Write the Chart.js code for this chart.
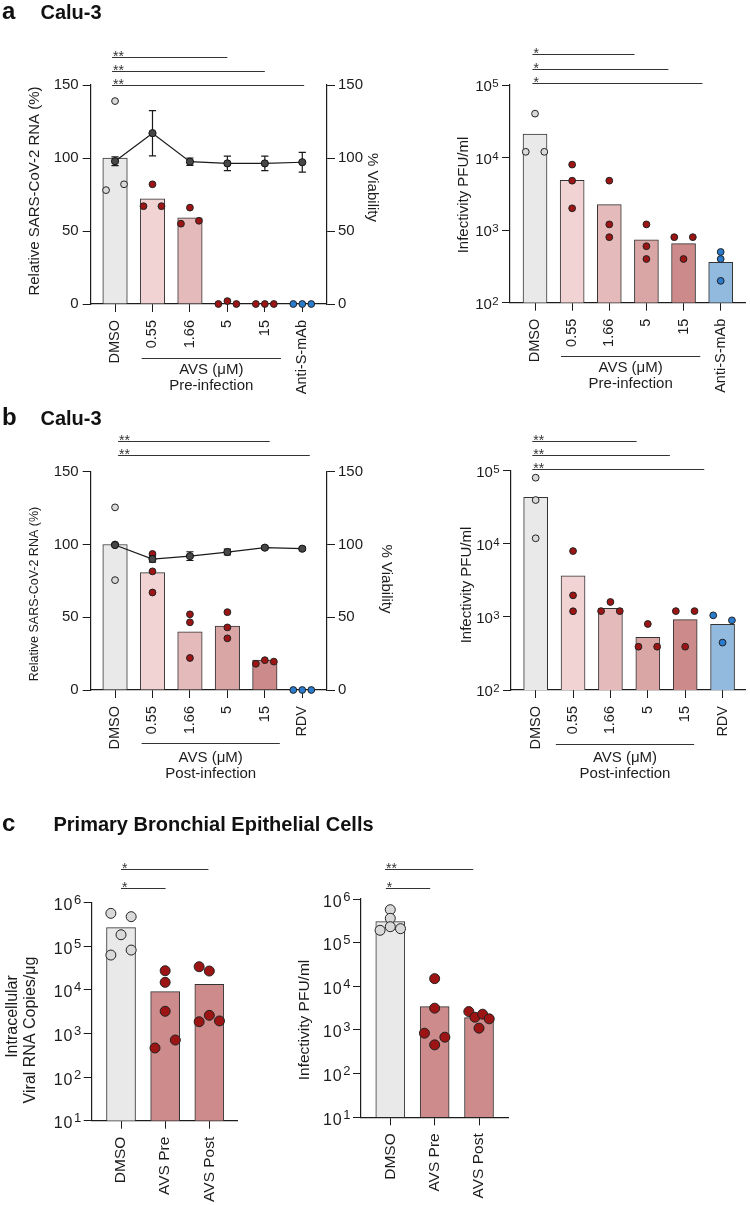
<!DOCTYPE html>
<html><head><meta charset="utf-8">
<script src="https://cdn.jsdelivr.net/npm/chart.js@4.4.1/dist/chart.umd.min.js"></script>
<style>
html,body{margin:0;padding:0;background:#fff;}
#wrap{position:relative;width:750px;height:1205px;overflow:hidden;}
canvas{position:absolute;left:0;top:0;}
</style></head>
<body><div id="wrap">
<canvas id="aL" width="750" height="1205"></canvas>
<canvas id="aR" width="750" height="1205"></canvas>
<canvas id="bL" width="750" height="1205"></canvas>
<canvas id="bR" width="750" height="1205"></canvas>
<canvas id="cL" width="750" height="1205"></canvas>
<canvas id="cR" width="750" height="1205"></canvas>
</div>
<script>
// ---------- DATA ----------
const catsA = ['DMSO','0.55','1.66','5','15','Anti-S-mAb'];
const catsB = ['DMSO','0.55','1.66','5','15','RDV'];
const catsC = ['DMSO','AVS Pre','AVS Post'];

const pctTicks = [0,50,100,150];
const logTicksAB = [100,1000,10000,100000];
const logTicksC = [10,100,1000,10000,100000,1000000];

// a: pre-infection
const aRnaBars = [100, 72, 59, 0, 0, 0];
const aRnaPts  = [[139,78,82],[82,67,67],[66,55,57],[0,2,0],[0,0,0],[0,0,0]];
const aRnaJit  = [[0,-1,1],[0,-1,1],[0,-1,1],[-1,0,1],[-1,0,1],[-1,0,1]];
const aViab    = [97.8, 117, 97.5, 96.3, 96.3, 97.1];
const aViabSd  = [3, 15.5, 2.5, 5, 5, 6.8];
const aPfuBars = [21100, 4860, 2250, 733, 652, 361];
const aPfuPts  = [[40300,12000,12000],[8000,4800,2000],[4800,1200,800],[1200,600,400],[800,800,400],[500,400,200]];
const aPfuJit  = [[0,-1,1],[0,0,0],[0,0,0],[0,0,0],[-1,1,0],[0,0,0]];

// b: post-infection
const bRnaBars = [100, 80.6, 40, 44, 20.5, 0];
const bRnaPts  = [[125.5,100,75.5],[93.5,81.5,67],[52,46.5,22],[53.5,43,35.5],[18,20.5,19.5],[0,0,0]];
const bRnaJit  = [[0,0,0],[0,0,0],[0,0,0],[0,0,0],[-1,0,1],[-1,0,1]];
const bViab    = [99.6, 90, 92, 94.8, 97.8, 97.1];
const bViabSd  = [1, 2.2, 3, 2, 1, 1];
const bPfuBars = [43300, 3660, 1310, 526, 916, 792];
const bPfuPts  = [[80200,39700,11900],[7960,1970,1195],[1600,1200,1200],[800,391,391],[1200,1200,391],[1050,897,445]];
const bPfuJit  = [[0,0,0],[0,0,0],[0,-1,1],[0,-1,1],[-1,1,0],[-1,1,0]];

// c: primary bronchial epithelial cells
const cRnaBars = [267000, 9100, 13400];
const cRnaPts  = [[570000,478000,184000,63000,82000],[27500,14900,3230,465,708],[34000,27100,1860,2610,1940]];
const cRnaJit  = [[-1,1,0,-1,1],[0,0,0,-1,1],[-1,0,-1,0,1]];
const cPfuBars = [303000, 3430, 1920];
const cPfuPts  = [[569000,361000,232000,192000,209000],[15000,3160,845,684,456],[2640,1960,2300,1800,1100]];
const cPfuJit  = [[0,0,0,-1,1],[0,0,-1,1,0],[-1,-0.4,0.35,1,0]];

// significance: [from, to, label]
const sigAL = [[-0.08,3,'**'],[-0.08,4,'**'],[-0.08,5.05,'**']];
const sigAR = [[-0.07,2.68,'*'],[-0.07,3.59,'*'],[-0.07,4.51,'*']];
const sigBL = [[0.08,4.13,'**'],[0.08,5.2,'**']];
const sigBR = [[-0.09,2.7,'**'],[-0.09,3.59,'**'],[-0.09,4.51,'**']];
const sigCL = [[0,1.98,'*'],[0,1.01,'*']];
const sigCR = [[-0.12,1.87,'**'],[-0.1,0.9,'*']];

// ---------- STYLE ----------
const FONT = "'Liberation Sans', Arial, Helvetica, sans-serif";
const INK = '#1c1c1c';
const GREY = '#e9e9e9', P1 = '#f2d3d3', P2 = '#e5baba', P3 = '#d9a5a5', P4 = '#cc8a8a', BLU = '#92b9de', PC = '#cd8b8b';
const DOT_G = '#d9d9d9', DOT_R = '#9c1414', DOT_B = '#2b7bcc';
const barColsA = [GREY,P1,P2,P3,P4,BLU];
const ptColsA = [DOT_G,DOT_R,DOT_R,DOT_R,DOT_R,DOT_B];
const barColsC = [GREY,PC,PC];
const ptColsC = [DOT_G,DOT_R,DOT_R];

Chart.defaults.font.family = FONT;
Chart.defaults.color = INK;

function txt(ctx, s, x, y, o) {
  o = o || {};
  ctx.save();
  ctx.translate(x, y);
  ctx.rotate((o.rot || 0) * Math.PI / 180);
  ctx.font = (o.bold ? 'bold ' : '') + (o.size || 15) + 'px ' + FONT;
  ctx.fillStyle = o.color || INK;
  ctx.textAlign = o.align || 'center';
  ctx.textBaseline = o.base || 'middle';
  if (o.ls) ctx.letterSpacing = o.ls + 'px';
  ctx.fillText(s, 0, 0);
  ctx.restore();
}

function makePanel(id, cfg) {
  const [L, T, R, B] = cfg.area;
  const log = !!cfg.log;
  const YW = 60, Y2W = 45, XH = Math.min(100, 1205 - B);
  const datasets = [];
  if (cfg.viab) {
    datasets.push({
      type: 'line', yAxisID: 'y2', order: 0, clip: false,
      data: cfg.viab.map((v, i) => ({x: i, y: v})),
      borderColor: '#1a1a1a', borderWidth: 1.2, tension: 0,
      pointRadius: 3.6, pointBorderWidth: 1,
      pointBackgroundColor: '#474747', pointBorderColor: '#111'
    });
  }
  cfg.pts.forEach((arr, i) => {
    datasets.push({
      type: 'scatter', yAxisID: 'y', order: 1, clip: false,
      data: arr.map((v, k) => ({x: i + cfg.jit[i][k] * cfg.jitUnit, y: v})),
      pointRadius: cfg.ptR, pointBorderWidth: 1,
      pointBackgroundColor: cfg.ptCols[i], pointBorderColor: '#222'
    });
  });
  datasets.push({
    type: 'bar', yAxisID: 'y', order: 2,
    data: cfg.bars.map((v, i) => ({x: i, y: v})),
    backgroundColor: cfg.barCols, borderColor: '#333', borderWidth: 1,
    barThickness: cfg.barW
  });

  const scales = {
    x: {
      type: 'linear', min: cfg.xmin, max: cfg.xmax, offset: false,
      afterBuildTicks: s => { s.ticks = cfg.cats.map((c, i) => ({value: i})); },
      afterFit: s => { s.height = XH; },
      ticks: {autoSkip: false, minRotation: 90, maxRotation: 90, padding: cfg.catPad,
              color: INK, font: {family: FONT, size: cfg.catSize},
              callback: v => cfg.cats[v]},
      grid: {display: true, drawOnChartArea: false, drawTicks: true, tickLength: 8,
             color: INK, lineWidth: 1, offset: false},
      border: {display: true, color: INK, width: 1.2}
    },
    y: {
      type: log ? 'logarithmic' : 'linear', position: 'left',
      min: cfg.ymin, max: cfg.ymax,
      afterBuildTicks: s => { s.ticks = cfg.yTicks.map(v => ({value: v})); },
      afterFit: s => { s.width = YW; },
      ticks: {display: !log, autoSkip: false, padding: 4, color: INK, font: {family: FONT, size: 15},
              callback: v => String(v)},
      grid: {drawOnChartArea: false, tickLength: 8, color: INK, lineWidth: 1},
      border: {display: true, color: INK, width: 1.2}
    }
  };
  if (cfg.viab) {
    scales.y2 = {
      type: 'linear', position: 'right', min: 0, max: 150,
      afterBuildTicks: s => { s.ticks = pctTicks.map(v => ({value: v})); },
      afterFit: s => { s.width = Y2W; },
      ticks: {autoSkip: false, padding: 3, color: INK, font: {family: FONT, size: 15}, callback: v => String(v)},
      grid: {drawOnChartArea: false, tickLength: 8, color: INK, lineWidth: 1},
      border: {display: true, color: INK, width: 1.2}
    };
  }

  const decor = {
    id: 'decor_' + id,
    beforeDatasetDraw(chart, args) {
      if (!cfg.viab || args.meta.type !== 'line') return;
      const ctx = chart.ctx, xs = chart.scales.x, ys = chart.scales.y2;
      ctx.save();
      ctx.strokeStyle = '#1a1a1a'; ctx.lineWidth = 1.2;
      cfg.viab.forEach((v, i) => {
        const sd = cfg.viabSd[i];
        const x = xs.getPixelForValue(i);
        const y1 = ys.getPixelForValue(v + sd), y2 = ys.getPixelForValue(v - sd);
        ctx.beginPath();
        ctx.moveTo(x, y1); ctx.lineTo(x, y2);
        ctx.moveTo(x - 3.6, y1); ctx.lineTo(x + 3.6, y1);
        ctx.moveTo(x - 3.6, y2); ctx.lineTo(x + 3.6, y2);
        ctx.stroke();
      });
      ctx.restore();
    },
    afterDraw(chart) {
      const ctx = chart.ctx, xs = chart.scales.x, ys = chart.scales.y;
      const ca = chart.chartArea;
      // log tick labels with superscript exponents
      if (log) {
        const lt = cfg.lt;
        cfg.yTicks.forEach(t => {
          const py = ys.getPixelForValue(t);
          const e = String(Math.round(Math.log10(t)));
          const xr = ca.left - 8 - lt.gap;
          ctx.save();
          ctx.font = lt.es + 'px ' + FONT;
          const ew = ctx.measureText(e).width;
          ctx.restore();
          txt(ctx, e, xr, py + lt.eb, {size: lt.es, align: 'right', base: 'alphabetic'});
          txt(ctx, '10', xr - ew - lt.sep, py + lt.bb, {size: lt.bs, align: 'right', base: 'alphabetic', ls: lt.ls});
        });
      }
      // significance bars
      const sg = cfg.sig;
      ctx.save();
      ctx.strokeStyle = '#333'; ctx.lineWidth = 1;
      sg.rows.forEach((r, k) => {
        const n = sg.rows.length;
        const y = Math.round(ca.top - sg.base - (n - 1 - k) * sg.gap) + 0.5;
        const x1 = xs.getPixelForValue(r[0]), x2 = xs.getPixelForValue(r[1]);
        ctx.beginPath(); ctx.moveTo(x1, y); ctx.lineTo(x2, y); ctx.stroke();
        txt(ctx, r[2], x1 + 1, y + 3.8, {size: 14, align: 'left', base: 'alphabetic', color: '#333'});
      });
      ctx.restore();
      // group bracket
      if (cfg.group) {
        const g = cfg.group;
        const y = Math.round(ca.bottom + g.dy) + 0.5;
        const x1 = xs.getPixelForValue(g.from), x2 = xs.getPixelForValue(g.to);
        ctx.save(); ctx.strokeStyle = '#333'; ctx.lineWidth = 1;
        ctx.beginPath(); ctx.moveTo(x1, y); ctx.lineTo(x2, y); ctx.stroke(); ctx.restore();
        const xc = (x1 + x2) / 2;
        g.lines.forEach(l => txt(ctx, l[0], xc, ca.bottom + l[1], {size: 15}));
      }
      // axis titles & free texts
      (cfg.titles || []).forEach(t => txt(ctx, t.t, t.x, t.y, t));
    }
  };

  const right = cfg.viab ? 750 - R - Y2W : 750 - R;
  return new Chart(document.getElementById(id), {
    type: 'bar',
    data: {datasets},
    options: {
      responsive: false, animation: false, events: [],
      layout: {padding: {left: L - YW, top: T, right: right, bottom: 1205 - B - XH}},
      plugins: {legend: {display: false}, tooltip: {enabled: false}},
      scales
    },
    plugins: [decor]
  });
}

const ltAB = {gap: 3.4, es: 11.5, eb: 2.3, bs: 15, bb: 6.3, sep: 0.3, ls: 0};
const ltC = {gap: 2.5, es: 13, eb: 1.5, bs: 16, bb: 7.5, sep: 0.5, ls: 1};

makePanel('aL', {
  area: [90.7, 85, 327, 304], xmin: -0.65, xmax: 5.66, cats: catsA,
  ymin: 0, ymax: 150, yTicks: pctTicks,
  bars: aRnaBars, barCols: barColsA, barW: 24.5,
  pts: aRnaPts, jit: aRnaJit, jitUnit: 0.24, ptR: 3.4, ptCols: ptColsA,
  viab: aViab, viabSd: aViabSd, catSize: 14.5, catPad: 8,
  sig: {rows: sigAL, base: 0, gap: 14.2},
  group: {from: 0.71, to: 4.43, dy: 54, lines: [['AVS (\u03bcM)', 66], ['Pre-infection', 81.5]]},
  titles: [
    {t: 'Relative SARS-CoV-2 RNA (%)', x: 35, y: 191, rot: -90, size: 15},
    {t: '% Viability', x: 372, y: 187.5, rot: 90, size: 15},
    {t: 'a', x: 2, y: 18.5, bold: true, size: 24, align: 'left', base: 'alphabetic', color: '#111'},
    {t: 'Calu-3', x: 40.5, y: 18.5, bold: true, size: 20, align: 'left', base: 'alphabetic', color: '#111'}
  ]
});

makePanel('aR', {
  area: [510, 85, 745, 302.7], xmin: -0.674, xmax: 5.655, cats: catsA,
  log: true, ymin: 100, ymax: 100000, yTicks: logTicksAB, lt: ltAB,
  bars: aPfuBars, barCols: barColsA, barW: 24,
  pts: aPfuPts, jit: aPfuJit, jitUnit: 0.25, ptR: 3.4, ptCols: ptColsA,
  catSize: 14.5, catPad: 8,
  sig: {rows: sigAR, base: 1.7, gap: 14.5},
  group: {from: 0.70, to: 4.45, dy: 53, lines: [['AVS (\u03bcM)', 65.3], ['Pre-infection', 81.3]]},
  titles: [{t: 'Infectivity PFU/ml', x: 464, y: 195, rot: -90, size: 15}]
});

makePanel('bL', {
  area: [90.7, 471.7, 327, 690], xmin: -0.65, xmax: 5.66, cats: catsB,
  ymin: 0, ymax: 150, yTicks: pctTicks,
  bars: bRnaBars, barCols: barColsA, barW: 24.5,
  pts: bRnaPts, jit: bRnaJit, jitUnit: 0.24, ptR: 3.4, ptCols: ptColsA,
  viab: bViab, viabSd: bViabSd, catSize: 14.5, catPad: 8,
  sig: {rows: sigBL, base: 16.7, gap: 14},
  group: {from: 0.71, to: 4.4, dy: 53.3, lines: [['AVS (\u03bcM)', 68], ['Post-infection', 84]]},
  titles: [
    {t: 'Relative SARS-CoV-2 RNA (%)', x: 35, y: 594, rot: -90, size: 12.5},
    {t: '% Viability', x: 386, y: 579, rot: 90, size: 15},
    {t: 'b', x: 2, y: 425, bold: true, size: 24, align: 'left', base: 'alphabetic', color: '#111'},
    {t: 'Calu-3', x: 40.5, y: 425, bold: true, size: 20, align: 'left', base: 'alphabetic', color: '#111'}
  ]
});

makePanel('bR', {
  area: [511, 470.7, 745, 690], xmin: -0.66, xmax: 5.6, cats: catsB,
  log: true, ymin: 100, ymax: 100000, yTicks: logTicksAB, lt: ltAB,
  bars: bPfuBars, barCols: barColsA, barW: 24,
  pts: bPfuPts, jit: bPfuJit, jitUnit: 0.25, ptR: 3.4, ptCols: ptColsA,
  catSize: 14.5, catPad: 8,
  sig: {rows: sigBR, base: 1.7, gap: 14},
  group: {from: 0.54, to: 4.24, dy: 54, lines: [['AVS (\u03bcM)', 68], ['Post-infection', 84]]},
  titles: [{t: 'Infectivity PFU/ml', x: 467, y: 585, rot: -90, size: 15}]
});

makePanel('cL', {
  area: [91.7, 902.7, 238, 1120.7], xmin: -0.664, xmax: 2.65, cats: catsC,
  log: true, ymin: 10, ymax: 1000000, yTicks: logTicksC, lt: ltC,
  bars: cRnaBars, barCols: barColsC, barW: 29,
  pts: cRnaPts, jit: cRnaJit, jitUnit: 0.23, ptR: 5, ptCols: ptColsC,
  catSize: 15.5, catPad: 8,
  sig: {rows: sigCL, base: 15, gap: 18.4},
  titles: [
    {t: 'Intracellular', x: 12.5, y: 1016.5, rot: -90, size: 16},
    {t: 'Viral RNA Copies/\u03bcg', x: 31, y: 1030, rot: -90, size: 16},
    {t: 'c', x: 2, y: 831, bold: true, size: 24, align: 'left', base: 'alphabetic', color: '#111'},
    {t: 'Primary Bronchial Epithelial Cells', x: 53.5, y: 831, bold: true, size: 20, align: 'left', base: 'alphabetic', color: '#111'}
  ]
});

makePanel('cR', {
  area: [361, 899, 508.3, 1117.3], xmin: -0.66, xmax: 2.66, cats: catsC,
  log: true, ymin: 10, ymax: 1000000, yTicks: logTicksC, lt: ltC,
  bars: cPfuBars, barCols: barColsC, barW: 29,
  pts: cPfuPts, jit: cPfuJit, jitUnit: 0.23, ptR: 5, ptCols: ptColsC,
  catSize: 15.5, catPad: 8,
  sig: {rows: sigCR, base: 11.3, gap: 18.4},
  titles: [{t: 'Infectivity PFU/ml', x: 305, y: 1020, rot: -90, size: 15.5}]
});
</script>
</body></html>
